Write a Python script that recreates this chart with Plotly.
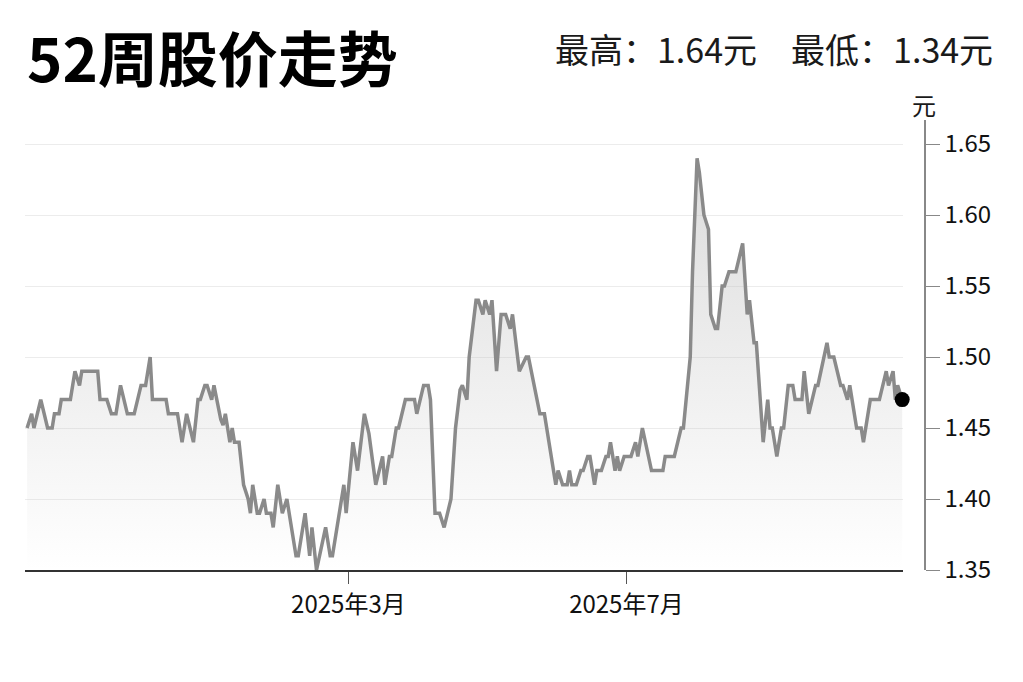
"""52-week share price chart (52周股价走势)."""

import pandas as pd
import plotly.graph_objects as go

START = "2024-10-11"

# days since START for each reading, and the closing price (元) on that day
day_offsets = [
    0, 2, 3, 6, 9, 11, 12, 14, 15, 19, 21, 23, 24, 31, 32, 35, 37, 39, 41, 44,
    47, 50, 52, 54, 55, 61, 62, 66, 68, 70, 73, 75, 76, 78, 79, 81, 82, 85, 86, 87,
    89, 90, 91, 93, 95, 97, 98, 99, 101, 102, 104, 105, 107, 108, 110, 112, 114, 118, 119, 122,
    124, 125, 127, 131, 133, 134, 139, 140, 143, 145, 148, 150, 153, 156, 157, 159, 160, 162, 163, 166,
    170, 171, 174, 176, 177, 179, 181, 183, 186, 188, 190, 191, 193, 194, 197, 198, 200, 201, 203, 204,
    206, 208, 210, 212, 213, 216, 219, 220, 225, 227, 232, 233, 235, 237, 238, 239, 241, 243, 244, 246,
    247, 249, 250, 252, 254, 255, 256, 258, 259, 260, 262, 265, 267, 268, 270, 274, 279, 280, 284, 287,
    288, 291, 292, 294, 295, 297, 299, 300, 302, 303, 305, 306, 308, 311, 314, 316, 317, 319, 320, 323,
    325, 326, 327, 329, 331, 332, 334, 336, 337, 340, 341, 343, 346, 347, 351, 352, 354, 357, 358, 360,
    361, 364, 366, 367, 370, 374, 377, 378, 380, 381, 382, 384,
]
prices = [
    1.45, 1.46, 1.45, 1.47, 1.45, 1.45, 1.46, 1.46, 1.47, 1.47, 1.49, 1.48, 1.49, 1.49, 1.47, 1.47, 1.46, 1.46, 1.48, 1.46,
    1.46, 1.48, 1.48, 1.50, 1.47, 1.47, 1.46, 1.46, 1.44, 1.46, 1.44, 1.47, 1.47, 1.48, 1.48, 1.47, 1.48, 1.456, 1.452, 1.46,
    1.44, 1.45, 1.44, 1.44, 1.41, 1.40, 1.39, 1.41, 1.39, 1.39, 1.40, 1.39, 1.39, 1.38, 1.41, 1.39, 1.40, 1.36, 1.36, 1.39,
    1.36, 1.38, 1.35, 1.38, 1.36, 1.36, 1.41, 1.39, 1.44, 1.42, 1.46, 1.446, 1.41, 1.43, 1.41, 1.43, 1.43, 1.45, 1.45, 1.47,
    1.47, 1.46, 1.48, 1.48, 1.47, 1.39, 1.39, 1.38, 1.40, 1.45, 1.477, 1.48, 1.47, 1.50, 1.54, 1.54, 1.53, 1.54, 1.53, 1.54,
    1.49, 1.53, 1.53, 1.52, 1.53, 1.49, 1.50, 1.50, 1.46, 1.46, 1.41, 1.42, 1.41, 1.41, 1.42, 1.41, 1.41, 1.42, 1.42, 1.43,
    1.43, 1.41, 1.42, 1.42, 1.43, 1.43, 1.44, 1.42, 1.43, 1.42, 1.43, 1.43, 1.44, 1.43, 1.45, 1.42, 1.42, 1.43, 1.43, 1.45,
    1.45, 1.50, 1.56, 1.64, 1.63, 1.60, 1.59, 1.53, 1.52, 1.52, 1.55, 1.55, 1.56, 1.56, 1.58, 1.53, 1.54, 1.51, 1.51, 1.44,
    1.47, 1.45, 1.45, 1.43, 1.45, 1.45, 1.48, 1.48, 1.47, 1.47, 1.49, 1.46, 1.48, 1.48, 1.51, 1.50, 1.50, 1.48, 1.48, 1.47,
    1.48, 1.45, 1.45, 1.44, 1.47, 1.47, 1.49, 1.48, 1.49, 1.47, 1.48, 1.47,
]
tick_dates = ["2025-03-01", "2025-07-01"]
tick_text = ["2025年3月", "2025年7月"]
y_ticks = [1.35, 1.40, 1.45, 1.50, 1.55, 1.60, 1.65]
high, low = 1.64, 1.34

FONT = "Noto Sans CJK SC"
dates = pd.Timestamp(START) + pd.to_timedelta(day_offsets, unit="D")

fig = go.Figure()
fig.add_trace(
    go.Scatter(
        x=dates,
        y=prices,
        mode="lines",
        line=dict(color="#8a8a8a", width=3.5),
        fill="tozeroy",
        fillgradient=dict(
            type="vertical",
            start=1.35,
            stop=1.65,
            colorscale=[[0, "rgba(190,190,190,0)"], [1, "rgba(190,190,190,0.55)"]],
        ),
        hoverinfo="skip",
        showlegend=False,
    )
)
# last close marker
fig.add_trace(
    go.Scatter(
        x=[dates[-1]],
        y=[prices[-1]],
        mode="markers",
        marker=dict(color="#000000", size=15),
        cliponaxis=False,
        hoverinfo="skip",
        showlegend=False,
    )
)

# the page body adds an 8px offset, so margins are trimmed on the left/top
fig.update_layout(
    width=1023,
    height=682,
    margin=dict(l=17, r=106, t=112, b=120),
    paper_bgcolor="white",
    plot_bgcolor="white",
    font=dict(family=FONT, color="#1a1a1a"),
    xaxis=dict(
        domain=[0, 0.9756],
        range=["2024-10-10 02:00", "2025-10-30 09:00"],
        tickvals=tick_dates,
        ticktext=tick_text,
        ticks="outside",
        ticklen=12,
        tickcolor="#555555",
        tickfont=dict(size=24, color="#111111"),
        showline=True,
        linecolor="#333333",
        linewidth=2,
        showgrid=False,
        zeroline=False,
    ),
    yaxis=dict(
        range=[1.35, 1.6669],
        tickvals=y_ticks,
        tickformat=".2f",
        side="right",
        anchor="free",
        position=1.0,
        ticks="outside",
        ticklen=14,
        tickcolor="#888888",
        tickfont=dict(size=24, color="#111111"),
        showline=True,
        linecolor="#888888",
        linewidth=1.5,
        showgrid=True,
        gridcolor="#ececec",
        gridwidth=1,
        zeroline=False,
    ),
    annotations=[
        dict(
            text="<b>52周股价走势</b>",
            xref="paper", yref="paper", x=0, y=1.2445,
            xanchor="left", yanchor="top", showarrow=False,
            font=dict(size=60, color="#000000"),
        ),
        dict(
            text=f"最高：{high:.2f}元\u3000最低：{low:.2f}元",
            xref="paper", yref="paper", x=1.078, y=1.158,
            xanchor="right", yanchor="middle", showarrow=False,
            font=dict(size=34, color="#1a1a1a"),
        ),
        dict(
            text="元",
            xref="paper", yref="paper", x=0.999, y=1.034,
            xanchor="center", yanchor="middle", showarrow=False,
            font=dict(size=24, color="#1a1a1a"),
        ),
    ],
)

fig.write_html("out.html")
